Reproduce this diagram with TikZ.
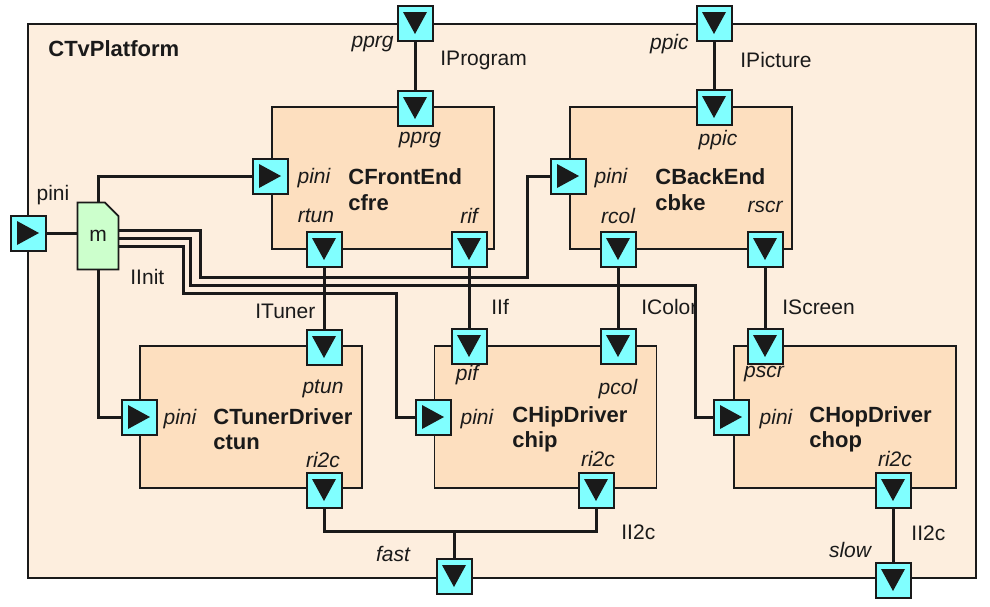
\documentclass[tikz,border=0pt]{standalone}
\usepackage{fontspec}
\setmainfont{Liberation Sans}
\usetikzlibrary{shapes.misc}

\definecolor{platfill}{HTML}{FDEEDE}
\definecolor{compfill}{HTML}{FDDFBF}
\definecolor{portfill}{HTML}{80FFFF}
\definecolor{notefill}{HTML}{CCFFCC}
\definecolor{ink}{HTML}{1A1A1A}

\begin{document}
\begin{tikzpicture}[x=0.5pt, y=-0.5pt,
    every node/.style={font=\fontsize{10.5}{12}\selectfont, text=ink},
    plat/.style={rectangle, draw=ink, fill=platfill, line width=0.9pt,
                 minimum width=474pt, minimum height=277pt, inner sep=0pt},
    comp/.style={rectangle, draw=ink, fill=compfill, line width=0.9pt,
                 minimum width=111pt, minimum height=71pt, inner sep=0pt},
    note/.style={chamfered rectangle, chamfered rectangle corners=north east,
                 chamfered rectangle xsep=4pt, chamfered rectangle ysep=4pt,
                 draw=ink, fill=notefill, line width=0.9pt,
                 minimum width=20.5pt, minimum height=33.5pt, inner sep=0pt},
    prt/.style={rectangle, draw=ink, fill=portfill, line width=1pt,
                minimum size=17.5pt, inner sep=0pt},
    pd/.style={prt, path picture={\fill[ink] ([shift={(-6pt,5.5pt)}]path picture bounding box.center)
                 -- ++(12pt,0pt) -- ++(-6pt,-11pt) -- cycle;}},
    pr/.style={prt, path picture={\fill[ink] ([shift={(-5.5pt,6pt)}]path picture bounding box.center)
                 -- ++(11pt,-6pt) -- ++(-11pt,-6pt) -- cycle;}},
    w/.style={draw=ink, line width=1.5pt},
    lbl/.style={inner sep=0pt},
    lit/.style={inner sep=0pt, font=\fontsize{10.5}{12}\selectfont\itshape},
    ttl/.style={inner sep=0pt, anchor=west, font=\fontsize{11}{13}\selectfont\bfseries},
  ]
  \useasboundingbox (0,0) rectangle (990,606);

  % platform and parts
  \node[plat] (tv) at (502,301) {};
  \node[ttl] (tvName) at (48,49) {CTvPlatform};
  \node[comp] (cfre) at (383,178) {};
  \node[comp] (cbke) at (681,178) {};
  \node[comp] (ctun) at (251,417) {};
  \node[comp] (chip) at (545.5,417) {};
  \node[comp] (chop) at (845,417) {};
  \node[note] (m) at (98,236) {m};

  % ports
  \node[pr] (tvPini) at (28,233) {};
  \node[pd] (tvPprg) at (415,23) {};
  \node[pd] (tvPpic) at (714,23) {};
  \node[pd] (tvFast) at (454,576) {};
  \node[pd] (tvSlow) at (893,580) {};

  \node[pd] (cfrePprg) at (415,108) {};
  \node[pr] (cfrePini) at (270,176) {};
  \node[pd] (cfreRtun) at (324,249) {};
  \node[pd] (cfreRif) at (469,249) {};

  \node[pd] (cbkePpic) at (714,107) {};
  \node[pr] (cbkePini) at (568,176) {};
  \node[pd] (cbkeRcol) at (618,249) {};
  \node[pd] (cbkeRscr) at (765,249) {};

  \node[pd] (ctunPtun) at (324,347) {};
  \node[pr] (ctunPini) at (139,417) {};
  \node[pd] (ctunRi2c) at (324,490) {};

  \node[pd] (chipPif) at (469,346) {};
  \node[pd] (chipPcol) at (618,346) {};
  \node[pr] (chipPini) at (433,417) {};
  \node[pd] (chipRi2c) at (596,490) {};

  \node[pd] (chopPscr) at (765,346) {};
  \node[pr] (chopPini) at (731,417) {};
  \node[pd] (chopRi2c) at (893,490) {};

  % wires
  \draw[w] (tvPini.east) -- (tvPini.east -| m.west);
  \draw[w] (tvPprg) -- (cfrePprg);
  \draw[w] (tvPpic) -- (cbkePpic);
  \draw[w] (m.north) |- (cfrePini.west);
  \draw[w] (m.south) |- (ctunPini.west);
  \draw[w] ([yshift=3pt]m.east) -| (200,277) -- (527,277) |- (cbkePini.west);
  \draw[w] ([yshift=-1pt]m.east) -| (190,285) -- (695,285) |- (chopPini.west);
  \draw[w] ([yshift=-5pt]m.east) -| (183,293) -- (396,293) |- (chipPini.west);
  \draw[w] (cfreRtun) -- (ctunPtun);
  \draw[w] (cfreRif) -- (chipPif);
  \draw[w] (cbkeRcol) -- (chipPcol);
  \draw[w] (cbkeRscr) -- (chopPscr);
  \coordinate (jn) at (454,531);
  \draw[w] (ctunRi2c.south) |- (jn) -| (chipRi2c.south);
  \draw[w] (jn) -- (tvFast.north);
  \draw[w] (chopRi2c) -- (tvSlow);

  % labels
  \node[lbl] (lTvPini) at (53,195) {pini};
  \node[lit, anchor=east] (lTvPprg) at (394,44) {pprg};
  \node[lbl, anchor=west] (lProg) at (440,60) {IProgram};
  \node[lit, anchor=east] (lTvPpic) at (689,44) {ppic};
  \node[lbl, anchor=west] (lPict) at (740,60) {IPicture};
  \node[lbl, anchor=west] (lInit) at (130,277) {IInit};
  \node[lbl, anchor=west] (lTuner) at (255,311) {ITuner};
  \node[lbl, anchor=west] (lIf) at (491,307) {IIf};
  \node[lbl, anchor=west] (lColor) at (641,307) {IColor};
  \node[lbl, anchor=west] (lScreen) at (782,307) {IScreen};
  \node[lit] (lFast) at (393,554) {fast};
  \node[lbl, anchor=west] (lI2cA) at (621,532) {II2c};
  \node[lit] (lSlow) at (850,550) {slow};
  \node[lbl, anchor=west] (lI2cB) at (911,533) {II2c};

  \node[lit] (lCfrePprg) at (420,140) {pprg};
  \node[lit] (lCfrePini) at (314,178) {pini};
  \node[lit] (lCfreRtun) at (316,216) {rtun};
  \node[lit] (lCfreRif) at (469,216) {rif};
  \node[ttl] (cfreType) at (348,177) {CFrontEnd};
  \node[ttl] (cfreName) at (348,203) {cfre};

  \node[lit] (lCbkePpic) at (718,140) {ppic};
  \node[lit] (lCbkePini) at (611,178) {pini};
  \node[lit] (lCbkeRcol) at (618,216) {rcol};
  \node[lit] (lCbkeRscr) at (765,207) {rscr};
  \node[ttl] (cbkeType) at (655,177) {CBackEnd};
  \node[ttl] (cbkeName) at (655,203) {cbke};

  \node[lit] (lCtunPtun) at (323,389) {ptun};
  \node[lit] (lCtunPini) at (180,419) {pini};
  \node[lit] (lCtunRi2c) at (323,460) {ri2c};
  \node[ttl] (ctunType) at (213,417) {CTunerDriver};
  \node[ttl] (ctunName) at (213,442) {ctun};

  \node[lit] (lChipPif) at (467,375) {pif};
  \node[lit] (lChipPcol) at (618,389) {pcol};
  \node[lit] (lChipPini) at (477,419) {pini};
  \node[lit] (lChipRi2c) at (598,459) {ri2c};
  \node[ttl] (chipType) at (512,417) {CHipDriver};
  \node[ttl] (chipName) at (512,442) {chip};

  \node[lit] (lChopPscr) at (764,374) {pscr};
  \node[lit] (lChopPini) at (776,419) {pini};
  \node[lit] (lChopRi2c) at (895,459) {ri2c};
  \node[ttl] (chopType) at (809,417) {CHopDriver};
  \node[ttl] (chopName) at (809,442) {chop};
\end{tikzpicture}
\end{document}
